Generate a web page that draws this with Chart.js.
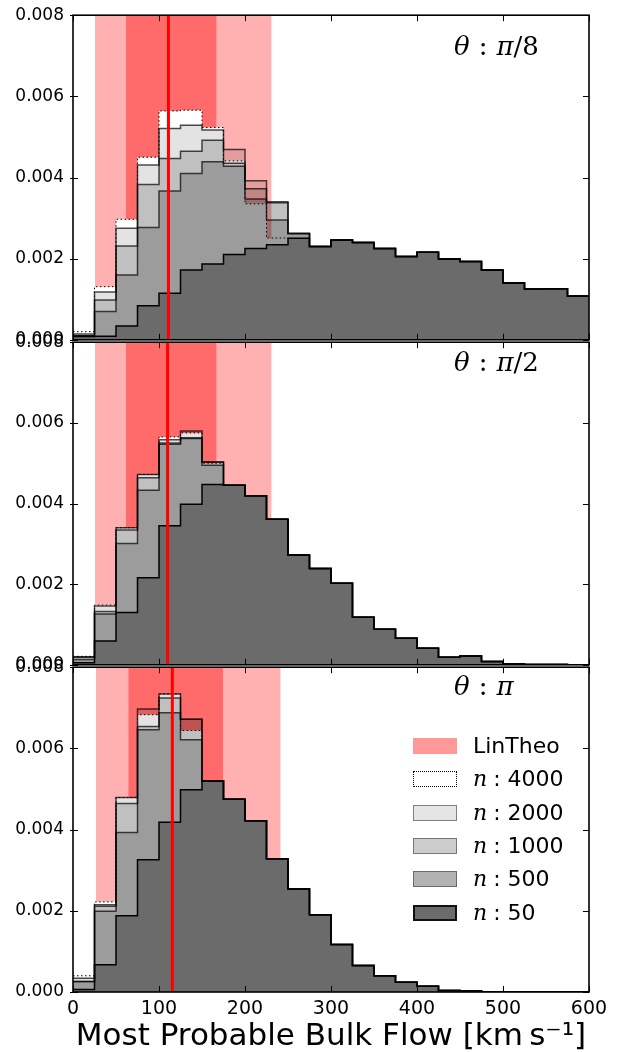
<!DOCTYPE html>
<html>
<head>
<meta charset="utf-8">
<script src="https://cdn.jsdelivr.net/npm/chart.js@4.4.0/dist/chart.umd.min.js"></script>
<style>
  html,body{margin:0;padding:0;background:#fff;}
  #wrap{position:relative;width:632px;height:1052px;background:#fff;overflow:hidden;}
  canvas{position:absolute;left:0;}
  .ann{position:absolute;font-family:'DejaVu Serif',serif;font-size:26px;line-height:26px;color:#000;white-space:nowrap;}
  .ann i{font-style:italic;}
  .ann .c{margin:0 9px;font-style:normal;}
  .row{position:absolute;left:413px;height:34px;white-space:nowrap;}
  .patch{position:absolute;left:0;top:9px;width:44px;height:16px;box-sizing:border-box;}
  .lab{position:absolute;left:60px;top:0;line-height:34px;font-family:'DejaVu Sans',sans-serif;font-size:22px;color:#000;}
  .lab i{font-family:'DejaVu Serif',serif;font-style:italic;font-size:22px;margin-right:6px;}
</style>
</head>
<body>
<div id="wrap">
  <canvas id="c1" width="632" height="363" style="top:-4px"></canvas>
  <canvas id="c2" width="632" height="361" style="top:323px"></canvas>
  <canvas id="c3" width="632" height="408" style="top:648px"></canvas>
  <div class="ann" style="left:454px;top:33px"><i>θ</i><span class="c">:</span><i>π</i>/8</div>
  <div class="ann" style="left:454px;top:349px"><i>θ</i><span class="c">:</span><i>π</i>/2</div>
  <div class="ann" style="left:454px;top:673px"><i>θ</i><span class="c">:</span><i>π</i></div>
  <div id="legend"></div>
</div>
<script>
// ---------------- data ----------------
const binEdges = [0,25,50,75,100,125,150,175,200,225,250,275,300,325,350,375,400,425,450,475,500,525,550,575,600];
const xTickValues = [0,100,200,300,400,500,600];
const yTickValues = [0,0.002,0.004,0.006,0.008];

// panel 1 : theta = pi/8
const p1_n50   = [0.00008,0.00009,0.00034,0.00084,0.00115,0.00172,0.00187,0.00210,0.00225,0.00234,0.00250,0.00230,0.00246,0.00240,0.00225,0.00205,0.00216,0.00199,0.00193,0.00172,0.00140,0.00125,0.00126,0.00108];
const p1_n500  = [0.00010,0.00070,0.00160,0.00277,0.00367,0.00410,0.00439,0.00428,0.00347,0.00295,0.00262,0.00230,0.00246,0.00240,0.00225,0.00205,0.00216,0.00199,0.00193,0.00172,0.00140,0.00125,0.00126,0.00108];
const p1_n1000 = [0.00010,0.00098,0.00231,0.00383,0.00447,0.00465,0.00492,0.00435,0.00372,0.00338,0.00262,0.00230,0.00246,0.00240,0.00225,0.00205,0.00216,0.00199,0.00193,0.00172,0.00140,0.00125,0.00126,0.00108];
const p1_n2000 = [0.00014,0.00118,0.00275,0.00431,0.00521,0.00529,0.00517,0.00469,0.00392,0.00340,0.00262,0.00230,0.00246,0.00240,0.00225,0.00205,0.00216,0.00199,0.00193,0.00172,0.00140,0.00125,0.00126,0.00108];
const p1_n4000 = [0.00020,0.00131,0.00297,0.00450,0.00564,0.00566,0.00523,0.00441,0.00335,0.00251,0.00250,0.00230,0.00246,0.00240,0.00225,0.00205,0.00216,0.00199,0.00193,0.00172,0.00140,0.00125,0.00126,0.00108];
const p1_band = [25.6, 61.6, 167, 231];   // outer lo, inner lo, inner hi, outer hi
const p1_line = 111;

// panel 2 : theta = pi/2
const p2_n50   = [0.00005,0.00059,0.00130,0.00216,0.00345,0.00398,0.00447,0.00445,0.00419,0.00361,0.00272,0.00239,0.00202,0.00118,0.00088,0.00066,0.00041,0.00019,0.00022,0.00008,0.00002,0.00001,0.00001,0.00000];
const p2_n500  = [0.00013,0.00126,0.00301,0.00433,0.00547,0.00561,0.00495,0.00445,0.00419,0.00361,0.00272,0.00239,0.00202,0.00118,0.00088,0.00066,0.00041,0.00019,0.00022,0.00008,0.00002,0.00001,0.00001,0.00000];
const p2_n1000 = [0.00019,0.00132,0.00334,0.00464,0.00550,0.00563,0.00503,0.00445,0.00419,0.00361,0.00272,0.00239,0.00202,0.00118,0.00088,0.00066,0.00041,0.00019,0.00022,0.00008,0.00002,0.00001,0.00001,0.00000];
const p2_n2000 = [0.00020,0.00146,0.00340,0.00472,0.00558,0.00580,0.00503,0.00445,0.00419,0.00361,0.00272,0.00239,0.00202,0.00118,0.00088,0.00066,0.00041,0.00019,0.00022,0.00008,0.00002,0.00001,0.00001,0.00000];
const p2_n4000 = [0.00021,0.00148,0.00340,0.00472,0.00565,0.00575,0.00500,0.00445,0.00419,0.00361,0.00272,0.00239,0.00202,0.00118,0.00088,0.00066,0.00041,0.00019,0.00022,0.00008,0.00002,0.00001,0.00001,0.00000];
const p2_band = [25.6, 61.6, 167, 231];
const p2_line = 110;

// panel 3 : theta = pi
const p3_n50   = [0.00006,0.00067,0.00188,0.00326,0.00418,0.00498,0.00520,0.00475,0.00422,0.00328,0.00254,0.00190,0.00117,0.00065,0.00040,0.00024,0.00014,0.00004,0.00003,0.00000,0.00000,0.00000,0.00000,0.00000];
const p3_n500  = [0.00026,0.00199,0.00393,0.00646,0.00688,0.00621,0.00520,0.00475,0.00422,0.00328,0.00254,0.00190,0.00117,0.00065,0.00040,0.00024,0.00014,0.00004,0.00003,0.00000,0.00000,0.00000,0.00000,0.00000];
const p3_n1000 = [0.00026,0.00211,0.00464,0.00654,0.00724,0.00672,0.00520,0.00475,0.00422,0.00328,0.00254,0.00190,0.00117,0.00065,0.00040,0.00024,0.00014,0.00004,0.00003,0.00000,0.00000,0.00000,0.00000,0.00000];
const p3_n2000 = [0.00034,0.00215,0.00479,0.00697,0.00734,0.00672,0.00520,0.00475,0.00422,0.00328,0.00254,0.00190,0.00117,0.00065,0.00040,0.00024,0.00014,0.00004,0.00003,0.00000,0.00000,0.00000,0.00000,0.00000];
const p3_n4000 = [0.00040,0.00222,0.00479,0.00683,0.00734,0.00644,0.00520,0.00475,0.00422,0.00328,0.00254,0.00190,0.00117,0.00065,0.00040,0.00024,0.00014,0.00004,0.00003,0.00000,0.00000,0.00000,0.00000,0.00000];
const p3_band = [26.7, 64.3, 174.8, 241.5];
const p3_line = 115.5;

const legendLabels = ['LinTheo','4000','2000','1000','500','50'];
const xTitle = 'Most Probable Bulk Flow [km\u2009s\u207B\u00B9]';
const yMax = 0.008;

// ---------------- helpers ----------------
function stepData(vals){
  const pts = vals.map((v,i)=>({x:binEdges[i], y:v}));
  pts.push({x:binEdges[binEdges.length-1], y:vals[vals.length-1]});
  return pts;
}
function histDs(vals, fill, border, width, dash, order){
  return {type:'line', data:stepData(vals), stepped:true, fill:'origin',
    backgroundColor:fill, borderColor:border, borderWidth:width, borderDash:dash,
    pointRadius:0, order:order, borderJoinStyle:'miter'};
}
function bandDs(lo, hi, color, order){
  return {type:'line', data:[{x:lo,y:yMax},{x:hi,y:yMax}], fill:'origin',
    backgroundColor:color, borderWidth:0, borderColor:'rgba(0,0,0,0)', pointRadius:0, order:order};
}

const frameTicks = {
  id:'frameTicks',
  afterDatasetsDraw(chart){
    const {ctx, chartArea:a, scales} = chart;
    const x = scales.x, y = scales.y;
    ctx.save();
    ctx.strokeStyle = '#000';
    ctx.lineWidth = 1;
    ctx.beginPath();
    x.ticks.forEach(t=>{
      const px = Math.round(x.getPixelForValue(t.value)) + 0.5;
      ctx.moveTo(px, a.bottom); ctx.lineTo(px, a.bottom - 6);
      ctx.moveTo(px, a.top);    ctx.lineTo(px, a.top + 6);
    });
    y.ticks.forEach(t=>{
      const py = Math.round(y.getPixelForValue(t.value)) + 0.5;
      ctx.moveTo(a.left - 3, py); ctx.lineTo(a.left + 5, py);
      ctx.moveTo(a.right, py);    ctx.lineTo(a.right - 6, py);
    });
    ctx.stroke();
    ctx.lineWidth = 1.6;
    ctx.strokeRect(a.left, a.top, a.right - a.left, a.bottom - a.top);
    ctx.restore();
  }
};

function makePanel(id, n50, n500, n1000, n2000, n4000, band, line, showX){
  const datasets = [
    {type:'line', data:[{x:line,y:0},{x:line,y:yMax}], borderColor:'#ff0000', borderWidth:3, pointRadius:0, fill:false, order:0},
    histDs(n50,   'rgba(0,0,0,0.31)',  '#000',    1.5, [],    1),
    histDs(n500,  'rgba(0,0,0,0.19)',  'rgba(0,0,0,0.7)', 1.5, [], 2),
    histDs(n1000, 'rgba(0,0,0,0.154)', 'rgba(0,0,0,0.7)', 1.5, [], 3),
    histDs(n2000, 'rgba(0,0,0,0.11)',  'rgba(0,0,0,0.7)', 1.5, [], 4),
    histDs(n4000, '#ffffff',           '#000',    1,   [1.5,2.5], 5),
    bandDs(band[1], band[2], 'rgba(255,0,0,0.40)', 6),
    bandDs(band[0], band[3], 'rgba(255,0,0,0.31)', 7)
  ];
  return new Chart(document.getElementById(id), {
    type:'line',
    data:{datasets},
    plugins:[frameTicks],
    options:{
      responsive:false, animation:false, devicePixelRatio:1,
      layout:{padding:{left:0, right:43, top:19, bottom: showX ? 0 : 19}},
      plugins:{legend:{display:false}, tooltip:{enabled:false}},
      elements:{line:{tension:0}},
      scales:{
        x:{type:'linear', min:0, max:600, display: showX,
           afterBuildTicks: s => { s.ticks = xTickValues.map(v=>({value:v})); },
           grid:{display:false, drawTicks:false}, border:{display:false},
           ticks:{font:{family:'DejaVu Sans', size:19}, color:'#000', padding:6, maxRotation:0,
                  callback: v => String(v)},
           title:{display:true, text:xTitle, color:'#000', font:{family:'DejaVu Sans', size:31}, padding:{top:0,bottom:0}},
           afterFit: s => { if (showX) s.height = 64; }
        },
        y:{type:'linear', min:0, max:yMax,
           afterBuildTicks: s => { s.ticks = yTickValues.map(v=>({value:v})); },
           grid:{display:false, drawTicks:false}, border:{display:false},
           ticks:{font:{family:'DejaVu Sans', size:17}, color:'#000', padding:9,
                  callback: v => Number(v).toFixed(3)},
           afterFit: s => { s.width = 73; }
        }
      }
    }
  });
}

makePanel('c1', p1_n50, p1_n500, p1_n1000, p1_n2000, p1_n4000, p1_band, p1_line, false);
makePanel('c2', p2_n50, p2_n500, p2_n1000, p2_n2000, p2_n4000, p2_band, p2_line, false);
makePanel('c3', p3_n50, p3_n500, p3_n1000, p3_n2000, p3_n4000, p3_band, p3_line, true);

// ---------------- legend (panel 3) ----------------
const legendStyles = [
  'background:#ff9999;',
  'background:#fff;border:1.5px dotted #000;',
  'background:#e5e5e5;border:1.5px solid #808080;',
  'background:#cccccc;border:1.5px solid #777;',
  'background:#b2b2b2;border:1.5px solid #6a6a6a;',
  'background:#6b6b6b;border:2px solid #111;'
];
const legendTops = [729, 762, 796, 829, 862, 896];
const lg = document.getElementById('legend');
legendLabels.forEach((t,i)=>{
  const row = document.createElement('div');
  row.className = 'row';
  row.style.top = legendTops[i] + 'px';
  const p = document.createElement('div');
  p.className = 'patch'; p.style.cssText = legendStyles[i];
  const l = document.createElement('div');
  l.className = 'lab';
  if (i === 0) l.textContent = t;
  else l.innerHTML = '<i>n</i>: ' + t;
  row.appendChild(p); row.appendChild(l);
  lg.appendChild(row);
});
</script>
</body>
</html>
